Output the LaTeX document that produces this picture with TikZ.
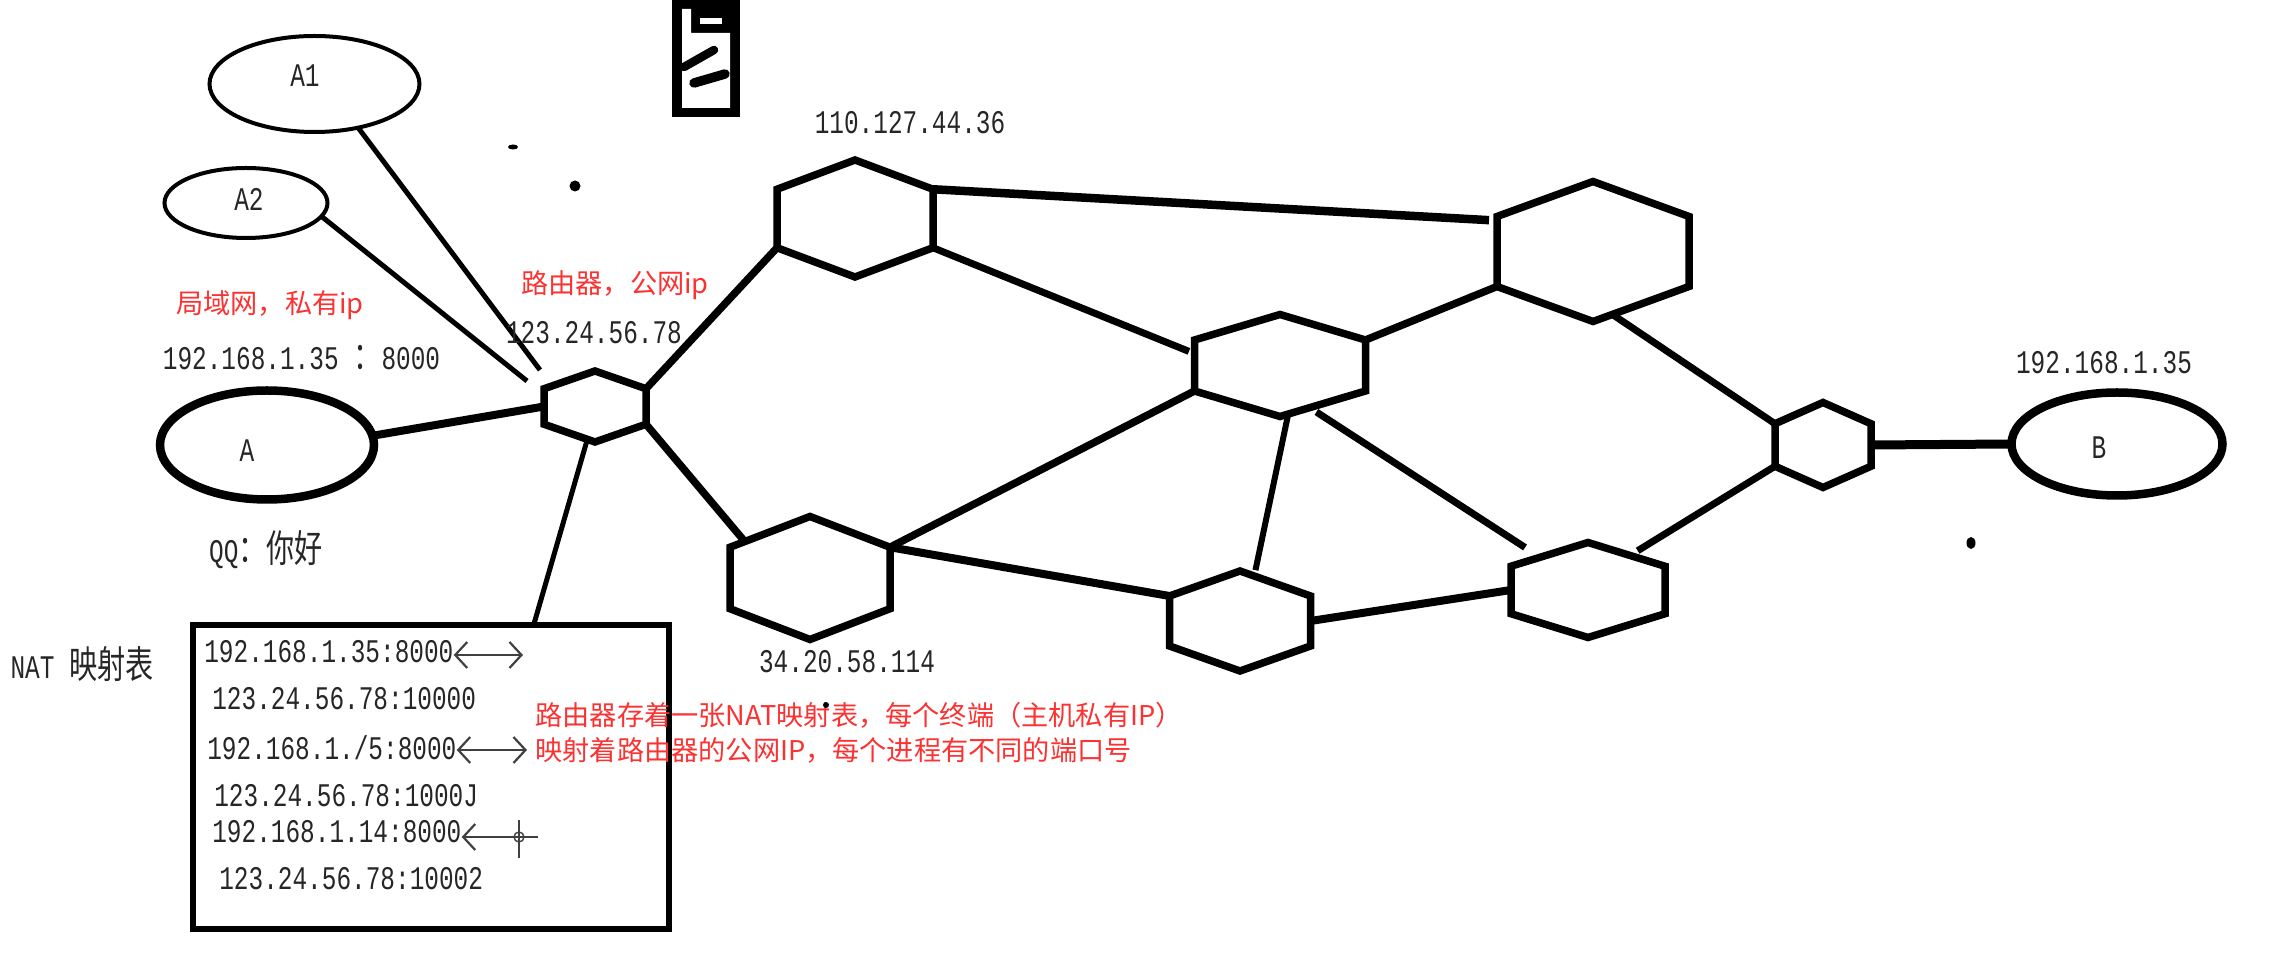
\documentclass[tikz,border=0pt]{standalone}
\usepackage{fontspec}
\setmonofont{Liberation Mono}
\newfontfamily\cjk{Noto Sans CJK SC}
\usetikzlibrary{shapes.geometric,arrows.meta}
\newcommand{\cjkb}[1]{{\cjk\fontsize{19}{19}\selectfont #1}}
\definecolor{notered}{RGB}{250,50,50}
\tikzset{
	hexbox/.style 2 args={draw,regular polygon,regular polygon sides=6,shape border rotate=30,minimum size=100pt,inner sep=0pt,outer sep=0pt,line width=3.75pt,xscale=#1/173.2,yscale=#2/200},
	hostell/.style n args={3}{draw,ellipse,inner sep=0pt,outer sep=0pt,minimum width=#1pt,minimum height=#2pt,line width=#3pt},
	printed/.style={font=\ttfamily\fontsize{16.5}{18}\selectfont,xscale=.74,text=black!85,inner sep=0pt},
	note/.style={font=\cjk\fontsize{13.6}{17.5}\selectfont,text=notered,inner sep=0pt,align=left},
	link/.style={line width=3.75pt},
	natarrow/.style={line width=1.1pt,draw=black!75,>={Straight Barb[length=6pt,width=13pt]}}
}
\begin{document}
\begin{tikzpicture}[x=.5pt,y=-.5pt]
	\useasboundingbox (0,0) rectangle (2288,961);
	\node[hostell={105}{48}{2}] (hostAone) at (314.5,84) {};
	\node[hostell={81.5}{35}{2}] (hostAtwo) at (246,203) {};
	\node[hostell={107}{54.5}{4.25}] (hostA) at (267,445) {};
	\node[hostell={105.5}{51.5}{4.25}] (hostB) at (2117,444) {};
	\node[printed] (labelAone) at (305,76) {A1};
	\node[printed] (labelAtwo) at (249,199) {A2};
	\node[printed] (labelA) at (247,451) {A};
	\node[printed] (labelB) at (2099,448) {B};
	\node[hexbox={102}{71}] (gate) at (595,406.5) {};
	\node[hexbox={156}{117}] (rtop) at (855,218.5) {};
	\node[hexbox={192}{140}] (rfar) at (1593,251.5) {};
	\node[hexbox={171}{102}] (rmid) at (1280,365.5) {};
	\node[hexbox={160}{123}] (rlow) at (810,578) {};
	\node[hexbox={141}{100}] (rbot) at (1240,621) {};
	\node[hexbox={154}{95}] (rend) at (1588,590) {};
	\node[hexbox={96}{85}] (rout) at (1823,445) {};
	\node[draw,line width=3pt,inner sep=0pt,outer sep=0pt,minimum width=238pt,minimum height=152pt] (nattable) at (431,777.5) {};
	\coordinate (aoneend) at (540,370);
	\coordinate (atwoend) at (527,381);
	\draw[line width=2.5pt] (hostAone.-45) -- (aoneend);
	\draw[line width=2.5pt] (hostAtwo.-10) -- (atwoend);
	\draw[line width=4pt] (hostA.5) -- (gate.west);
	\draw[line width=2.5pt] (gate.262) -- (nattable.56);
	\draw[link] (gate.30) -- (rtop.210);
	\draw[link] (gate.330) -- (rlow.140);
	\draw[line width=4.25pt,shorten >=4pt] (rtop.30) -- (rfar.153);
	\draw[line width=3.5pt,shorten >=3pt] (rtop.330) -- (rmid.165);
	\draw[link] (rmid.30) -- (rfar.210);
	\draw[link] (rmid.210) -- (rlow.30);
	\draw[line width=3pt,shorten >=3pt] (rmid.275) -- (rbot.79);
	\draw[line width=3.5pt,shorten <=4pt,shorten >=9pt] (rmid.290) -- (rend.128);
	\draw[line width=4pt] (rlow.30) -- (rbot.150);
	\draw[line width=4pt] (rbot.east) -- (rend.west);
	\draw[line width=3.5pt,shorten <=4.5pt] (rend.57) -- (rout.210);
	\draw[line width=3.5pt] (rfar.281) -- (rout.150);
	\draw[line width=4.5pt] (rout.east) -- (hostB.west);
	\node[printed] (iphost) at (301.5,358) {192.168.1.35 \cjkb{：}8000};
	\node[printed] (msg) at (266,550) {QQ\cjkb{：你好}};
	\node[printed] (ipgate) at (594,333) {123.24.56.78};
	\node[printed] (iptop) at (910,123) {110.127.44.36};
	\node[printed] (iplow) at (847,662) {34.20.58.114};
	\node[printed] (ipB) at (2104,363) {192.168.1.35};
	\node[printed] (natname) at (82,664) {NAT \cjkb{映射表}};
	\node[printed,anchor=west] (natone) at (204,652) {192.168.1.35:8000};
	\node[printed,anchor=west] (pubone) at (212,699) {123.24.56.78:10000};
	\node[printed,anchor=west] (nattwo) at (207,748) {192.168.1./5:8000};
	\node[printed,anchor=west] (pubtwo) at (214,796) {123.24.56.78:1000J};
	\node[printed,anchor=west] (natthree) at (212,832) {192.168.1.14:8000};
	\node[printed,anchor=west] (pubthree) at (219,879) {123.24.56.78:10002};
	\coordinate (oneend) at (523,655);
	\coordinate (twoend) at (527,750);
	\coordinate (threeend) at (519,837);
	\draw[natarrow,<->] (natone.east |- oneend) -- (oneend);
	\draw[natarrow,<->] (nattwo.east |- twoend) -- (twoend);
	\draw[natarrow,<-] (natthree.east |- threeend) -- (threeend);
	\draw[line width=.7pt,draw=black!75] (519,820) -- (519,858);
	\draw[line width=.7pt,draw=black!75] (503,837) -- (538,837);
	\draw[line width=.7pt,draw=black!75] (519,837) circle (5);
	\node[note] (lannote) at (270,305) {局域网，私有ip};
	\node[note] (gatenote) at (615,285) {路由器，公网ip};
	\node[note,anchor=west] (natnote) at (535,733) {路由器存着一张NAT映射表，每个终端（主机私有IP）\\映射着路由器的公网IP，每个进程有不同的端口号};
	\fill (672,0) rectangle (740,117);
	\fill[white] (682,9) -- (691,9) -- (691,33) -- (730,33) -- (730,108) -- (682,108) -- cycle;
	\fill[white] (700,18) rectangle (722,24);
	\draw[line width=4.25pt,line cap=round] (684,67) -- (714,50);
	\draw[line width=4.75pt,line cap=round] (694,83) -- (725,74);
	\fill (513,147) ellipse (5 and 2.5);
	\fill (575,186) circle (5.5);
	\fill (1971,543) ellipse (4.5 and 6);
	\fill (826,705) circle (3);
\end{tikzpicture}
\end{document}
